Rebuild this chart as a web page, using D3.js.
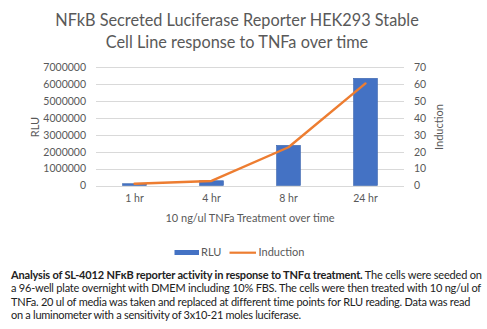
<!DOCTYPE html>
<html>
<head>
<meta charset="utf-8">
<script src="https://cdn.jsdelivr.net/npm/d3@7"></script>
<style>
  html, body { margin: 0; padding: 0; background: #fff; }
  svg { display: block; }
  text { font-family: Lato, "Open Sans", sans-serif; }
</style>
</head>
<body>
<svg id="chart" width="487" height="329"></svg>
<script>
// Time points after TNFa treatment
const timePoints = ["1 hr", "4 hr", "8 hr", "24 hr"];
// Luciferase signal (RLU)
const rluValues = [105000, 280000, 2370000, 6330000];
// Fold induction relative to 1 hr
const inductionValues = [1, 2.7, 22.6, 60.3];
// Axis ticks
const rluTicks = [0, 1000000, 2000000, 3000000, 4000000, 5000000, 6000000, 7000000];
const inductionTicks = [0, 10, 20, 30, 40, 50, 60, 70];

const titleLines = [
  "NFkB Secreted Luciferase Reporter HEK293 Stable",
  "Cell Line response to TNFa over time"
];
const captionLines = [
  [["Analysis of SL-4012 NFκB reporter activity in response to TNFα treatment.", true],
   [" The cells were seeded on", false]],
  [["a 96-well plate overnight with DMEM including 10% FBS. The cells were then treated with 10 ng/ul of", false]],
  [["TNFa. 20 ul of media was taken and replaced at different time points for RLU reading. Data was read", false]],
  [["on a luminometer with a sensitivity of 3x10-21 moles luciferase.", false]]
];
const captionWidths = [471, 470, 459, 290];

const svg = d3.select("#chart");
const textColor = "#595959";
const barColor = "#4472C4";
const lineColor = "#ED7D31";

const plot = { left: 96, right: 404, top: 67, bottom: 185.5 };

const x = d3.scaleBand().domain(timePoints).range([plot.left, plot.right]).padding(0);
const yL = d3.scaleLinear().domain([0, 7000000]).range([plot.bottom, plot.top]);
const yR = d3.scaleLinear().domain([0, 70]).range([plot.bottom, plot.top]);

// Title
svg.append("g").selectAll("text").data(titleLines).join("text")
  .attr("x", 237).attr("y", (d, i) => 26 + i * 21.5)
  .attr("text-anchor", "middle")
  .attr("font-size", 16.3)
  .attr("fill", textColor)
  .text(d => d);

// Gridlines
svg.append("g").selectAll("line").data(rluTicks).join("line")
  .attr("x1", plot.left).attr("x2", plot.right)
  .attr("y1", d => Math.round(yL(d)) + 0.5).attr("y2", d => Math.round(yL(d)) + 0.5)
  .attr("stroke", "#d9d9d9").attr("stroke-width", 1);

// Left axis
const leftAxis = svg.append("g").attr("transform", "translate(86,0)")
  .call(d3.axisLeft(yL).tickValues(rluTicks).tickSize(0).tickPadding(0).tickFormat(d3.format("d")));
leftAxis.select(".domain").remove();
leftAxis.selectAll("text").attr("fill", textColor).attr("font-size", 10.5)
  .attr("font-family", "Lato, 'Open Sans', sans-serif");

// Right axis
const rightAxis = svg.append("g").attr("transform", "translate(414,0)")
  .call(d3.axisRight(yR).tickValues(inductionTicks).tickSize(0).tickPadding(0));
rightAxis.select(".domain").remove();
rightAxis.selectAll("text").attr("fill", textColor).attr("font-size", 10.5)
  .attr("font-family", "Lato, 'Open Sans', sans-serif");

// Bottom category labels
const bottomAxis = svg.append("g").attr("transform", `translate(0,${plot.bottom + 9})`)
  .call(d3.axisBottom(x).tickSize(0).tickPadding(0));
bottomAxis.select(".domain").remove();
bottomAxis.selectAll("text").attr("fill", textColor).attr("font-size", 10.5)
  .attr("font-family", "Lato, 'Open Sans', sans-serif");

// Axis titles
svg.append("text")
  .attr("transform", "translate(39,127) rotate(-90)")
  .attr("text-anchor", "middle").attr("font-size", 11).attr("fill", textColor)
  .text("RLU");
svg.append("text")
  .attr("transform", "translate(443,127) rotate(-90)")
  .attr("text-anchor", "middle").attr("font-size", 11).attr("fill", textColor)
  .text("Induction");
svg.append("text")
  .attr("x", 250).attr("y", 222)
  .attr("text-anchor", "middle").attr("font-size", 11).attr("fill", textColor)
  .text("10 ng/ul TNFa Treatment over time");

// Bars
const barW = x.bandwidth() * 0.31;
svg.append("g").selectAll("rect").data(timePoints).join("rect")
  .attr("x", (d) => x(d) + x.bandwidth() / 2 - barW / 2)
  .attr("width", barW)
  .attr("y", (d, i) => yL(rluValues[i]))
  .attr("height", (d, i) => yL(0) - yL(rluValues[i]))
  .attr("fill", barColor)
  .attr("stroke", "#3a64ad").attr("stroke-width", 0.6);

// Induction line
const line = d3.line()
  .x((d, i) => x(timePoints[i]) + x.bandwidth() / 2)
  .y(d => yR(d));
svg.append("path").datum(inductionValues)
  .attr("d", line)
  .attr("fill", "none")
  .attr("stroke", lineColor)
  .attr("stroke-width", 2.4)
  .attr("stroke-linejoin", "round")
  .attr("stroke-linecap", "round");

// Legend
const legend = svg.append("g");
legend.append("rect").attr("x", 174.5).attr("y", 250).attr("width", 24.5).attr("height", 5)
  .attr("fill", barColor);
legend.append("text").attr("x", 201).attr("y", 255.5).attr("font-size", 11).attr("fill", textColor)
  .text("RLU");
legend.append("line").attr("x1", 229.5).attr("x2", 256).attr("y1", 252.7).attr("y2", 252.7)
  .attr("stroke", lineColor).attr("stroke-width", 2.2);
legend.append("text").attr("x", 258.5).attr("y", 255.5).attr("font-size", 11).attr("fill", textColor)
  .text("Induction");

// Caption: each line is tightened with letter-spacing to its set width
const cap = svg.append("g");
captionLines.forEach((parts, i) => {
  const t = cap.append("text")
    .attr("x", 11).attr("y", 279 + i * 13.4)
    .attr("font-size", 11).attr("fill", "#222");
  parts.forEach(([s, bold]) => {
    t.append("tspan").attr("font-weight", bold ? "bold" : "normal").text(s);
  });
  const natural = t.node().getComputedTextLength();
  const chars = parts.reduce((n, p) => n + p[0].length, 0);
  const spacing = (captionWidths[i] - natural) / chars;
  t.attr("letter-spacing", Math.min(0, spacing).toFixed(3));
});
</script>
</body>
</html>
